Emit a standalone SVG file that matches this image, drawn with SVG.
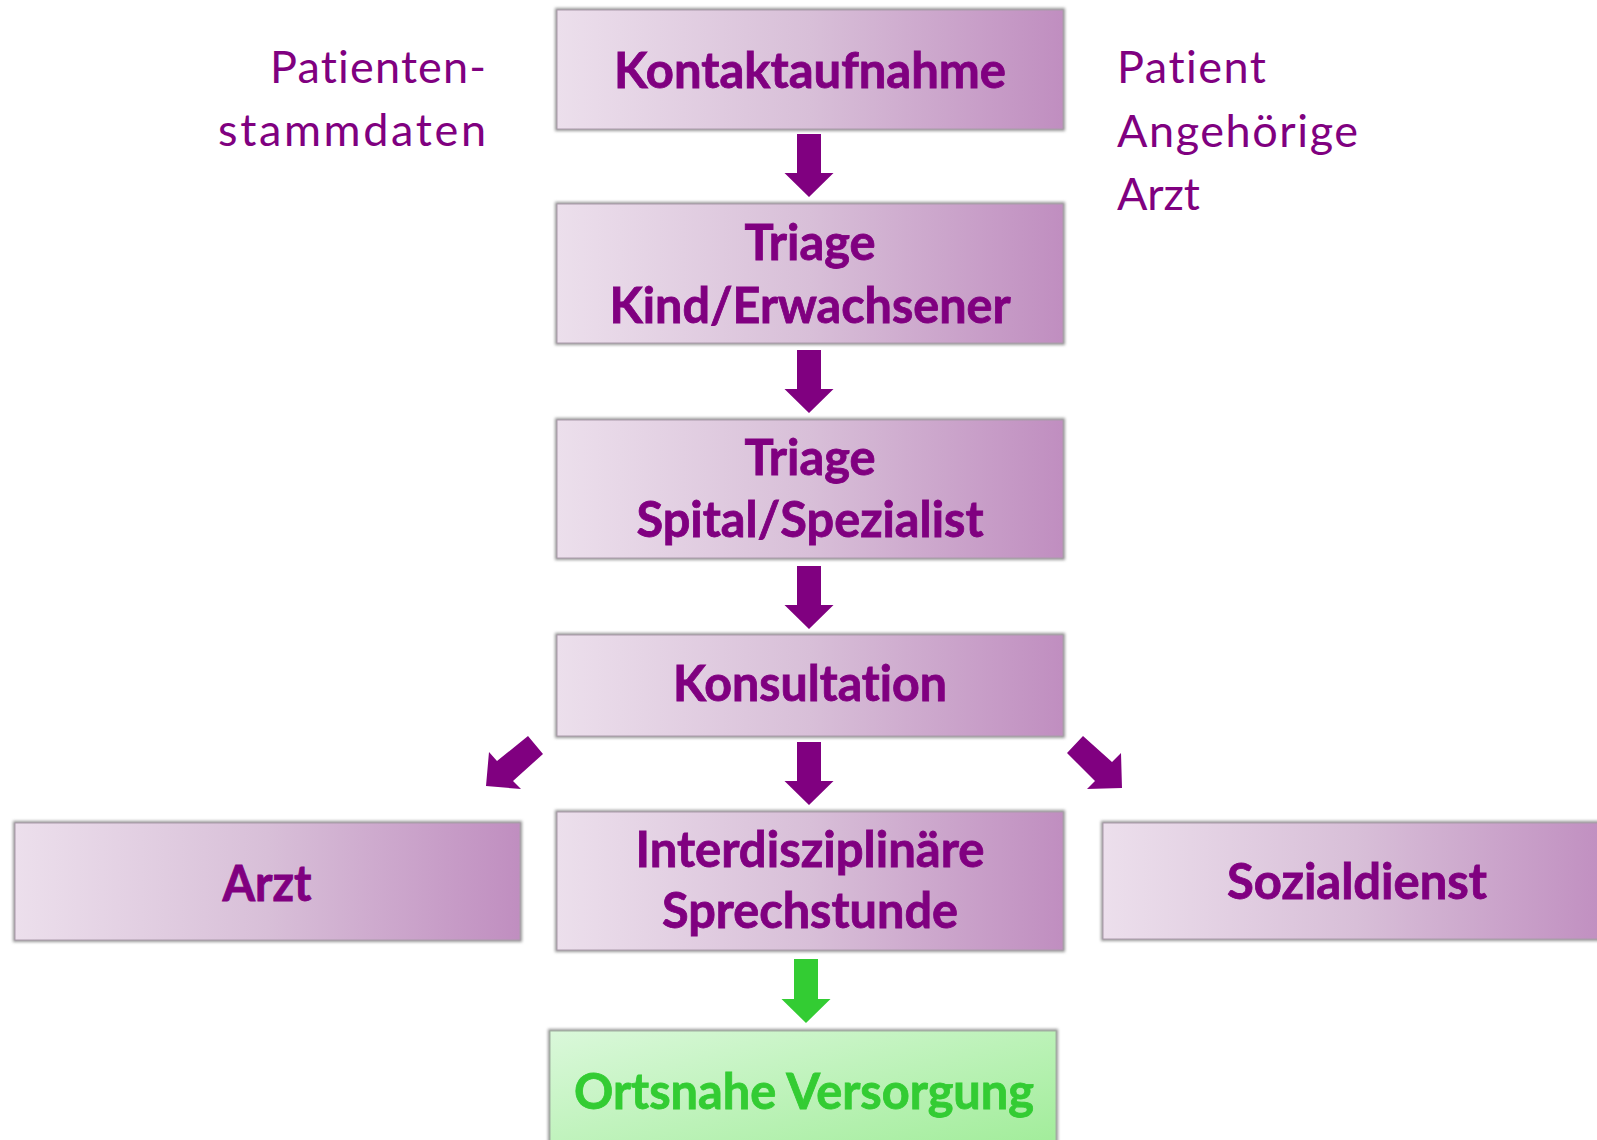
<svg xmlns="http://www.w3.org/2000/svg" width="1597" height="1140" viewBox="0 0 1597 1140">
<defs>
  <linearGradient id="gp" x1="0" y1="0" x2="1" y2="0">
    <stop offset="0" stop-color="#ECDFEC"/>
    <stop offset="0.5" stop-color="#D8BFD8"/>
    <stop offset="1" stop-color="#C08EC0"/>
  </linearGradient>
  <linearGradient id="gg" x1="0" y1="0" x2="1" y2="1">
    <stop offset="0" stop-color="#DAF8DA"/>
    <stop offset="1" stop-color="#9EEC96"/>
  </linearGradient>
  <filter id="soft" x="-5%" y="-20%" width="110%" height="140%">
    <feGaussianBlur stdDeviation="1.6"/>
  </filter>
</defs>
<style>
  .edge { fill: none; stroke: #959595; stroke-width: 4; filter: url(#soft); }
  .box { fill: url(#gp); stroke: #aa9aaa; stroke-width: 1; }
  .gbox { fill: url(#gg); stroke: #a0b0a0; stroke-width: 1; }
  .t { font-family: Lato, "Open Sans", sans-serif; font-weight: bold; font-size: 49px; fill: #800080; stroke: #800080; stroke-width: 0.8; text-anchor: middle; font-variant-ligatures: none; }
  .tg { fill: #33CC33; stroke: #33CC33; }
  .side { font-family: Lato, "Open Sans", sans-serif; font-size: 45px; fill: #800080; font-variant-ligatures: none; }
  .ap { fill: #800080; }
  .ag { fill: #33CC33; }
</style>
<rect width="1597" height="1140" fill="#ffffff"/>

<g id="side-left">
  <text class="side" x="486" y="83" text-anchor="end" textLength="216">Patienten-</text>
  <text class="side" x="486" y="146" text-anchor="end" textLength="268">stammdaten</text>
</g>
<g id="side-right">
  <text class="side" x="1117" y="83" textLength="149">Patient</text>
  <text class="side" x="1117" y="147" textLength="241">Angehörige</text>
  <text class="side" x="1117" y="210" textLength="83">Arzt</text>
</g>

<g id="n-kontakt">
  <rect class="edge" x="557" y="10" width="506" height="119"/>
  <rect class="box" x="557" y="10" width="506" height="119"/>
  <text class="t" x="810" y="88" textLength="392" lengthAdjust="spacingAndGlyphs">Kontaktaufnahme</text>
</g>
<g id="n-triage1">
  <rect class="edge" x="557" y="204" width="506" height="139"/>
  <rect class="box" x="557" y="204" width="506" height="139"/>
  <text class="t" x="810" y="260" textLength="131" lengthAdjust="spacingAndGlyphs">Triage</text>
  <text class="t" x="810" y="323" textLength="401" lengthAdjust="spacingAndGlyphs">Kind/Erwachsener</text>
</g>
<g id="n-triage2">
  <rect class="edge" x="557" y="420" width="506" height="138"/>
  <rect class="box" x="557" y="420" width="506" height="138"/>
  <text class="t" x="810" y="475" textLength="131" lengthAdjust="spacingAndGlyphs">Triage</text>
  <text class="t" x="810" y="537" textLength="347" lengthAdjust="spacingAndGlyphs">Spital/Spezialist</text>
</g>
<g id="n-konsultation">
  <rect class="edge" x="557" y="635" width="506" height="101"/>
  <rect class="box" x="557" y="635" width="506" height="101"/>
  <text class="t" x="810" y="701" textLength="274" lengthAdjust="spacingAndGlyphs">Konsultation</text>
</g>
<g id="n-sprechstunde">
  <rect class="edge" x="557" y="812" width="506" height="138"/>
  <rect class="box" x="557" y="812" width="506" height="138"/>
  <text class="t" x="810" y="867" textLength="349" lengthAdjust="spacingAndGlyphs">Interdisziplinäre</text>
  <text class="t" x="810" y="928" textLength="296" lengthAdjust="spacingAndGlyphs">Sprechstunde</text>
</g>
<g id="n-arzt">
  <rect class="edge" x="15" y="823" width="505" height="117"/>
  <rect class="box" x="15" y="823" width="505" height="117"/>
  <text class="t" x="267" y="901" textLength="89" lengthAdjust="spacingAndGlyphs">Arzt</text>
</g>
<g id="n-sozialdienst">
  <rect class="edge" x="1103" y="823" width="506" height="116"/>
  <rect class="box" x="1103" y="823" width="506" height="116"/>
  <text class="t" x="1357" y="899" textLength="260" lengthAdjust="spacingAndGlyphs">Sozialdienst</text>
</g>
<g id="n-ortsnahe">
  <rect class="edge" x="550" y="1031" width="506" height="130"/>
  <rect class="gbox" x="550" y="1031" width="506" height="130"/>
  <text class="t tg" x="804" y="1109" textLength="460" lengthAdjust="spacingAndGlyphs">Ortsnahe Versorgung</text>
</g>

<g id="connectors">
  <polygon class="ap" points="797,134 821,134 821,173 833.5,173 809,197 784.5,173 797,173"/>
  <polygon class="ap" points="797,350 821,350 821,389 833.5,389 809,413 784.5,389 797,389"/>
  <polygon class="ap" points="797,566 821,566 821,605 833.5,605 809,629 784.5,605 797,605"/>
  <polygon class="ap" points="797,742 821,742 821,781 833.5,781 809,805 784.5,781 797,781"/>
  <polygon class="ap" points="528,736 543,754 513,781 521,789 486,786 489,752 497,761"/>
  <polygon class="ap" points="1083,736 1067,753 1095,781 1087,789 1122,788 1121,753 1112,762"/>
  <polygon class="ag" points="794,959 818,959 818,999 830.5,999 806,1023 781.5,999 794,999"/>
</g>
</svg>
